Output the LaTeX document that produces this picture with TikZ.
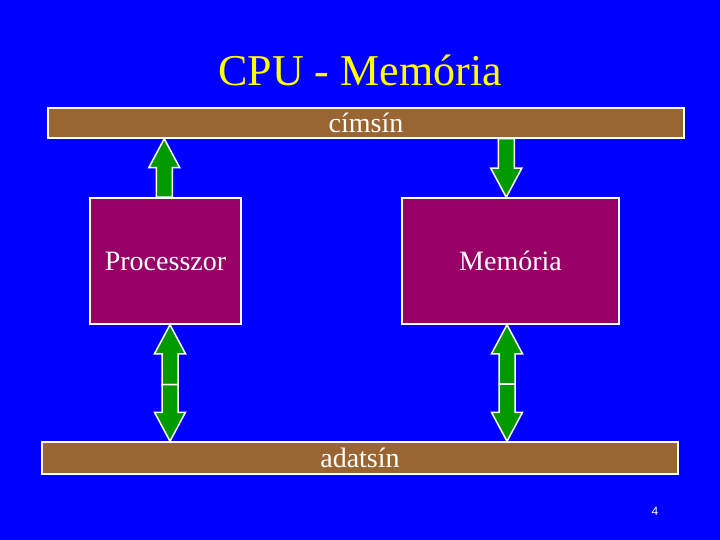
\documentclass[tikz,border=0pt]{standalone}
\usepackage{fontspec}
\setmainfont{Liberation Serif}
\newfontfamily\numfont{Liberation Sans}
\usetikzlibrary{calc}
\definecolor{bgblue}{RGB}{0,0,255}
\definecolor{busbrown}{RGB}{153,102,51}
\definecolor{boxmag}{RGB}{153,0,102}
\definecolor{arrgreen}{RGB}{0,153,0}
\definecolor{titleyellow}{RGB}{255,255,0}
\tikzset{
  bus/.style={draw=white, line width=1.5pt, fill=busbrown, inner sep=0pt, text=white, font=\fontsize{28}{30}\selectfont},
  unit/.style={draw=white, line width=1.5pt, fill=boxmag, inner sep=0pt, text=white, font=\fontsize{28}{30}\selectfont},
  fatarrow/.style={draw=white, line width=1.5pt, fill=arrgreen, line join=miter}
}
\newcommand\fatarrow[2]{%
  \draw[fatarrow] let \p1=#1, \p2=#2, \n1={sign(\y2-\y1)} in
    (\x1-8pt,\y1) -- (\x1-8pt,{\y2-\n1*29pt}) -- (\x1-15.5pt,{\y2-\n1*29pt}) -- (\x1,\y2)
    -- (\x1+15.5pt,{\y2-\n1*29pt}) -- (\x1+8pt,{\y2-\n1*29pt}) -- (\x1+8pt,\y1) -- cycle;}
\begin{document}
\begin{tikzpicture}[x=1pt,y=-1pt]
\fill[bgblue] (0,0) rectangle (720,540);
\useasboundingbox (0,0) rectangle (720,540);
\node[anchor=base, text=titleyellow, font=\fontsize{44}{48}\selectfont] (title) at (360,86) {CPU - Memória};
\node[bus, minimum width=636pt, minimum height=30pt] (cim) at (366,123) {címsín};
\node[bus, minimum width=636pt, minimum height=32pt] (adat) at (360,458) {adatsín};
\node[unit, minimum width=151pt, minimum height=126pt] (proc) at (165.5,261) {Processzor};
\node[unit, minimum width=217pt, minimum height=126pt] (mem) at (510.5,261) {Memória};
\node[anchor=base, text=white, font=\numfont\fontsize{12}{14}\selectfont] (num) at (655,515) {4};
% top arrows
\coordinate (a1) at ([xshift=75pt]proc.north west);
\fatarrow{(a1)}{(a1 |- cim.south)}
\coordinate (a2) at ([xshift=105pt]mem.north west);
\fatarrow{(a2 |- cim.south)}{(a2)}
% bottom double arrows
\coordinate (ml) at (170,384.5);
\fatarrow{(ml)}{(ml |- proc.south)}
\fatarrow{(ml)}{(ml |- adat.north)}
\coordinate (mr) at (507,384);
\fatarrow{(mr)}{(mr |- mem.south)}
\fatarrow{(mr)}{(mr |- adat.north)}
\end{tikzpicture}
\end{document}
